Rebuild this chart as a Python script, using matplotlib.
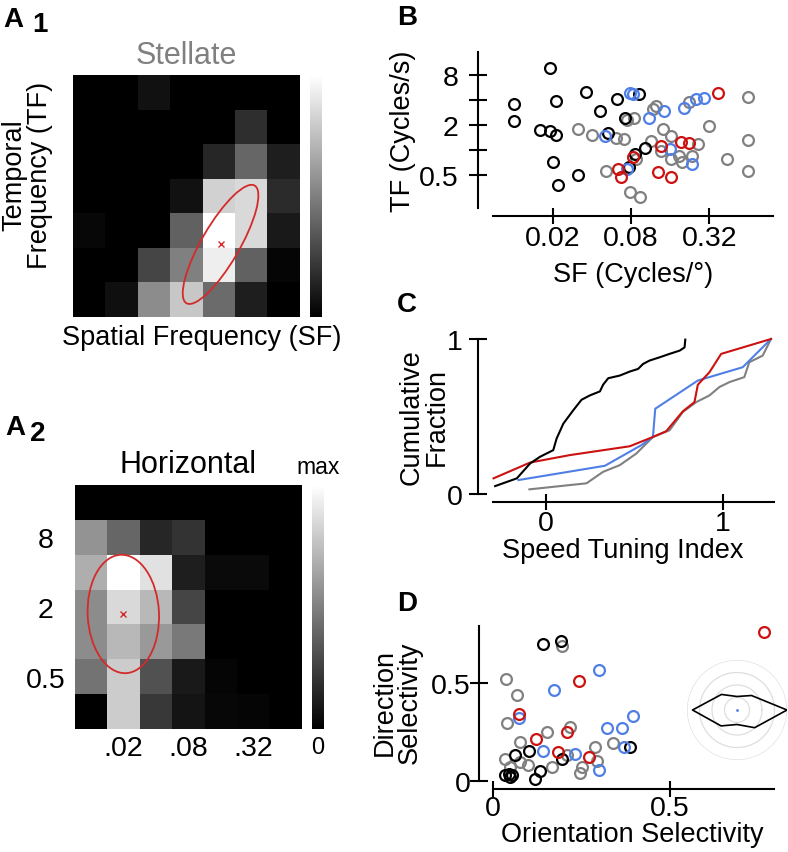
import numpy as np
import matplotlib
matplotlib.use("Agg")
import matplotlib.pyplot as plt
from matplotlib.patches import Ellipse

plt.rcParams["font.family"] = ["Liberation Sans", "DejaVu Sans"]

W, H = 788, 853
BLACK, GRAY, BLUE, RED = "#000000", "#808080", "#4f7fe6", "#cc1111"
FIT = "#d42a2a"
TICK_FS = 20.5

# ---- A: SF x TF response maps (rows = TF high->low, cols = SF low->high)
sf_grid = [0.01, 0.02, 0.04, 0.08, 0.16, 0.32, 0.64]
tf_grid = [16, 8, 4, 2, 1, 0.5, 0.25]
stellate = np.array([
    [0.00, 0.00, 0.07, 0.00, 0.00, 0.00, 0.00],
    [0.00, 0.00, 0.00, 0.00, 0.00, 0.18, 0.00],
    [0.00, 0.00, 0.00, 0.00, 0.15, 0.40, 0.12],
    [0.00, 0.00, 0.00, 0.07, 0.82, 0.85, 0.17],
    [0.03, 0.00, 0.00, 0.38, 1.00, 0.85, 0.10],
    [0.00, 0.00, 0.27, 0.50, 0.93, 0.38, 0.02],
    [0.00, 0.06, 0.55, 0.78, 0.42, 0.12, 0.00],
])
horizontal = np.array([
    [0.00, 0.00, 0.00, 0.00, 0.00, 0.00, 0.00],
    [0.58, 0.40, 0.15, 0.20, 0.00, 0.00, 0.00],
    [0.68, 1.00, 0.88, 0.12, 0.04, 0.04, 0.00],
    [0.55, 0.85, 0.72, 0.27, 0.00, 0.00, 0.00],
    [0.55, 0.72, 0.60, 0.48, 0.00, 0.00, 0.00],
    [0.45, 0.80, 0.32, 0.10, 0.02, 0.00, 0.00],
    [0.00, 0.80, 0.22, 0.08, 0.03, 0.02, 0.00],
])
# fitted gaussian: centre (col, row), width, height, angle (grid units)
stellate_fit = (4.05, 4.4, 4.0, 1.15, -58)
horizontal_fit = (0.99, 3.2, 2.2, 3.4, -3)
a2_sf_ticks = [0.02, 0.08, 0.32]
a2_sf_labels = [".02", ".08", ".32"]
a2_tf_ticks = [8, 2, 0.5]
a2_tf_labels = ["8", "2", "0.5"]

# ---- B: preferred SF / TF per cell
sf_gray = [0.031, 0.040, 0.061, 0.071, 0.084, 0.074, 0.051, 0.078, 0.093, 0.113, 0.117, 0.125, 0.140,
           0.163, 0.137, 0.163, 0.188, 0.198, 0.237, 0.26, 0.32, 0.44, 0.64, 0.64, 0.64, 0.225, 0.087]
tf_gray = [1.79, 1.49, 1.38, 1.36, 2.43, 2.26, 0.56, 0.31, 0.27, 1.28, 3.1, 3.4, 1.79,
           1.47, 0.97, 0.78, 0.85, 0.72, 0.85, 1.18, 1.94, 0.77, 4.3, 1.33, 0.55, 3.8, 0.78]
sf_black = [0.019, 0.010, 0.010, 0.021, 0.016, 0.019, 0.021, 0.020, 0.022, 0.031, 0.036, 0.046,
            0.062, 0.072, 0.053, 0.092, 0.103, 0.085, 0.077]
tf_black = [9.7, 3.6, 2.2, 3.85, 1.71, 1.69, 1.52, 0.72, 0.38, 0.50, 4.95, 2.9,
            4.1, 2.43, 1.59, 4.72, 1.06, 0.90, 0.63]
sf_blue = [0.079, 0.082, 0.109, 0.144, 0.206, 0.254, 0.293, 0.050, 0.074, 0.158, 0.237]
tf_blue = [4.8, 4.7, 2.43, 2.94, 3.2, 4.1, 4.2, 1.47, 0.59, 1.03, 0.68]
sf_red = [0.373, 0.195, 0.225, 0.137, 0.082, 0.063, 0.067, 0.128, 0.163]
tf_red = [4.8, 1.25, 1.21, 1.11, 0.82, 0.59, 0.47, 0.54, 0.47]

# ---- C: cumulative distributions of speed tuning index
sti_black = [-0.288, -0.165, -0.09, -0.034, 0.041, 0.06, 0.098, 0.154, 0.201, 0.248, 0.305, 0.323,
             0.352, 0.417, 0.474, 0.521, 0.549, 0.586, 0.643, 0.699, 0.756, 0.784, 0.788]
cum_black = [0.051, 0.101, 0.197, 0.24, 0.283, 0.358, 0.454, 0.54, 0.608, 0.636, 0.662, 0.705,
             0.747, 0.764, 0.79, 0.807, 0.839, 0.861, 0.882, 0.904, 0.925, 0.946, 0.996]
sti_red = [-0.297, -0.09, 0.135, 0.474, 0.605, 0.68, 0.774, 0.84, 0.859, 0.925, 0.991, 1.273]
cum_red = [0.101, 0.203, 0.251, 0.308, 0.368, 0.405, 0.533, 0.593, 0.705, 0.786, 0.904, 1.0]
sti_blue = [-0.156, 0.333, 0.539, 0.605, 0.618, 0.859, 1.113, 1.273]
cum_blue = [0.09, 0.182, 0.315, 0.368, 0.55, 0.732, 0.818, 1.0]
sti_gray = [-0.094, 0.229, 0.323, 0.417, 0.511, 0.605, 0.699, 0.774, 0.85, 0.925, 0.981, 1.038,
            1.122, 1.15, 1.226, 1.273]
cum_gray = [0.03, 0.069, 0.143, 0.186, 0.261, 0.368, 0.411, 0.529, 0.593, 0.636, 0.69, 0.722,
            0.754, 0.85, 0.893, 1.0]

# ---- D: orientation vs direction selectivity
os_gray = [0.037, 0.068, 0.04, 0.035, 0.077, 0.077, 0.098, 0.153, 0.167, 0.209, 0.217, 0.247,
           0.252, 0.29, 0.294, 0.34, 0.195, 0.049]
ds_gray = [0.522, 0.44, 0.296, 0.114, 0.199, 0.097, 0.08, 0.25, 0.071, 0.131, 0.276, 0.041,
           0.071, 0.173, 0.105, 0.196, 0.692, 0.071]
os_black = [0.142, 0.192, 0.387, 0.035, 0.044, 0.054, 0.049, 0.063, 0.101, 0.12, 0.132, 0.195]
ds_black = [0.70, 0.718, 0.173, 0.029, 0.037, 0.029, 0.02, 0.131, 0.153, 0.012, 0.051, 0.114]
os_blue = [0.073, 0.172, 0.299, 0.323, 0.365, 0.396, 0.372, 0.143, 0.233, 0.301]
ds_blue = [0.321, 0.466, 0.568, 0.274, 0.27, 0.335, 0.173, 0.156, 0.136, 0.058]
os_red = [0.769, 0.244, 0.075, 0.209, 0.123, 0.183, 0.271]
ds_red = [0.764, 0.514, 0.344, 0.253, 0.214, 0.148, 0.122]

# example polar tuning (normalised response per direction)
dir_deg = [0, 45, 90, 135, 180, 225, 270, 315]
dir_resp = [1.0, 0.41, 0.27, 0.44, 0.89, 0.45, 0.29, 0.5]
ring_r = [0.25, 0.5, 0.75, 1.0]


def box(x0, y0, x1, y1):
    # pixel box (origin top-left) -> figure rect
    return [x0 / W, 1 - y1 / H, (x1 - x0) / W, (y1 - y0) / H]


fig = plt.figure(figsize=(W / 100, H / 100), dpi=100)


def heatmap(rect, crect, data, fit):
    ax = fig.add_axes(rect)
    cax = fig.add_axes(crect)
    im = ax.imshow(data, cmap="gray", vmin=0, vmax=1, aspect="auto", interpolation="nearest")
    ax.add_patch(Ellipse(fit[:2], fit[2], fit[3], angle=fit[4], fill=False, ec=FIT, lw=1.3))
    ax.plot(fit[0], fit[1], marker="x", color=FIT, ms=4, mew=1)
    for s in ax.spines.values():
        s.set_visible(False)
    cb = fig.colorbar(im, cax=cax)
    cb.outline.set_visible(False)
    cb.set_ticks([])
    return ax, cax


# A1
ax1, cax1 = heatmap(box(73, 76, 300, 318), box(310, 76, 322, 318), stellate, stellate_fit)
ax1.set_xticks([])
ax1.set_yticks([])
ax1.set_title("Stellate", color=GRAY, fontsize=22, pad=9)
ax1.set_xlabel("Spatial Frequency (SF)", fontsize=19.5)
ax1.xaxis.set_label_coords(0.565, -0.03)
ax1.set_ylabel("Temporal\nFrequency (TF)", fontsize=19.5, linespacing=0.95)
ax1.yaxis.set_label_coords(-0.09, 0.59)

# A2
ax2, cax2 = heatmap(box(75, 486, 302, 730), box(312, 486, 324, 730), horizontal, horizontal_fit)
ax2.set_xticks([sf_grid.index(v) for v in a2_sf_ticks], a2_sf_labels, fontsize=TICK_FS)
ax2.set_yticks([tf_grid.index(v) for v in a2_tf_ticks], a2_tf_labels, fontsize=TICK_FS)
ax2.tick_params(axis="x", length=0, pad=4)
ax2.tick_params(axis="y", length=0, pad=21)
for t in ax2.get_yticklabels():
    t.set_horizontalalignment("center")
ax2.set_title("Horizontal", fontsize=22, pad=9)
cax2.text(0.5, 1.03, "max", transform=cax2.transAxes, ha="center", va="bottom", fontsize=16.5)
cax2.text(0.5, -0.03, "0", transform=cax2.transAxes, ha="center", va="top", fontsize=17)

# panel letters
fig.text(3 / W, 1 - 27 / H, "A", fontsize=20, weight="bold", va="baseline")
fig.text(32 / W, 1 - 32 / H, "1", fontsize=20, weight="bold", va="baseline")
fig.text(5 / W, 1 - 435 / H, "A", fontsize=20, weight="bold", va="baseline")
fig.text(30 / W, 1 - 441 / H, "2", fontsize=20, weight="bold", va="baseline")
for letter, yb in [("B", 25), ("C", 312), ("D", 611)]:
    fig.text(397 / W, 1 - yb / H, letter, fontsize=20, weight="bold", va="baseline")


def style(ax, left_out, ytick_pad, xtick_pad):
    for s in ["top", "right"]:
        ax.spines[s].set_visible(False)
    ax.spines["left"].set_position(("outward", left_out))
    ax.spines["bottom"].set_position(("outward", 5.8))
    for s in ["left", "bottom"]:
        ax.spines[s].set_linewidth(1.5)
    ax.tick_params(axis="y", direction="inout", length=13, width=1.5, labelsize=TICK_FS, pad=ytick_pad)
    ax.tick_params(axis="x", direction="inout", length=11, width=1.5, labelsize=TICK_FS, pad=xtick_pad)
    ax.minorticks_off()


mk = dict(marker="o", ls="none", mfc="none", ms=7.8, mew=1.6)

# B
axB = fig.add_axes(box(493, 53, 773, 209))
axB.plot(sf_gray, tf_gray, mec=GRAY, **mk)
axB.plot(sf_black, tf_black, mec=BLACK, **mk)
axB.plot(sf_blue, tf_blue, mec=BLUE, **mk)
axB.plot(sf_red, tf_red, mec=RED, **mk)
axB.set_xscale("log")
axB.set_yscale("log")
axB.set_xlim(0.0069, 0.99)
axB.set_ylim(0.2, 15)
axB.set_xticks([0.02, 0.08, 0.32], ["0.02", "0.08", "0.32"])
axB.set_yticks([0.5, 1, 2, 4, 8], ["0.5", "", "2", "", "8"])
style(axB, 10.8, 7.5, 1)
axB.set_xlabel("SF (Cycles/°)", fontsize=19.5)
axB.xaxis.set_label_coords(0.5, -0.34)
axB.set_ylabel("TF (Cycles/s)", fontsize=19.5)
axB.yaxis.set_label_coords(-0.275, 0.5)

# C
axC = fig.add_axes(box(493, 340, 774, 495))
for xs, ys, c in [(sti_gray, cum_gray, GRAY), (sti_blue, cum_blue, BLUE),
                  (sti_red, cum_red, RED), (sti_black, cum_black, BLACK)]:
    axC.plot(xs, ys, color=c, lw=1.5, clip_on=False)
axC.set_xlim(-0.30, 1.29)
axC.set_ylim(0, 1)
axC.set_xticks([0, 1], ["0", "1"])
axC.set_yticks([0, 1], ["0", "1"])
style(axC, 10.5, 5, 0.5)
axC.set_xlabel("Speed Tuning Index", fontsize=19.5)
axC.xaxis.set_label_coords(0.46, -0.28)
axC.set_ylabel("Cumulative\nFraction", fontsize=19.5, linespacing=0.95)
axC.yaxis.set_label_coords(-0.155, 0.5)

# D
axD = fig.add_axes(box(493, 627, 774, 782))
axD.plot(os_gray, ds_gray, mec=GRAY, **mk)
axD.plot(os_black, ds_black, mec=BLACK, **mk)
axD.plot(os_blue, ds_blue, mec=BLUE, **mk)
axD.plot(os_red, ds_red, mec=RED, **mk)
axD.set_xlim(0, 0.796)
axD.set_ylim(0, 0.794)
axD.set_xticks([0, 0.5], ["0", "0.5"])
axD.set_yticks([0, 0.5], ["0", "0.5"])
style(axD, 10, -0.5, -1)
for a in (axB, axD):
    for ln in a.lines:
        ln.set_clip_on(False)
axD.set_xlabel("Orientation Selectivity", fontsize=19.5)
axD.xaxis.set_label_coords(0.495, -0.26)
axD.set_ylabel("Direction\nSelectivity", fontsize=19.5, linespacing=0.95)
axD.yaxis.set_label_coords(-0.25, 0.51)

# inset polar plot
axP = fig.add_axes(box(687, 661, 787, 761), projection="polar")
th = np.linspace(0, 2 * np.pi, 200)
for r in ring_r:
    axP.plot(th, np.full_like(th, r), color="#dedede", lw=0.9)
ang = np.deg2rad(dir_deg + dir_deg[:1])
axP.plot(ang, dir_resp + dir_resp[:1], color=BLACK, lw=1.2)
axP.plot(0, 0, marker=".", color=BLUE, ms=2)
axP.set_ylim(0, 1.0)
axP.axis("off")

fig.savefig("out.png", dpi=100)
